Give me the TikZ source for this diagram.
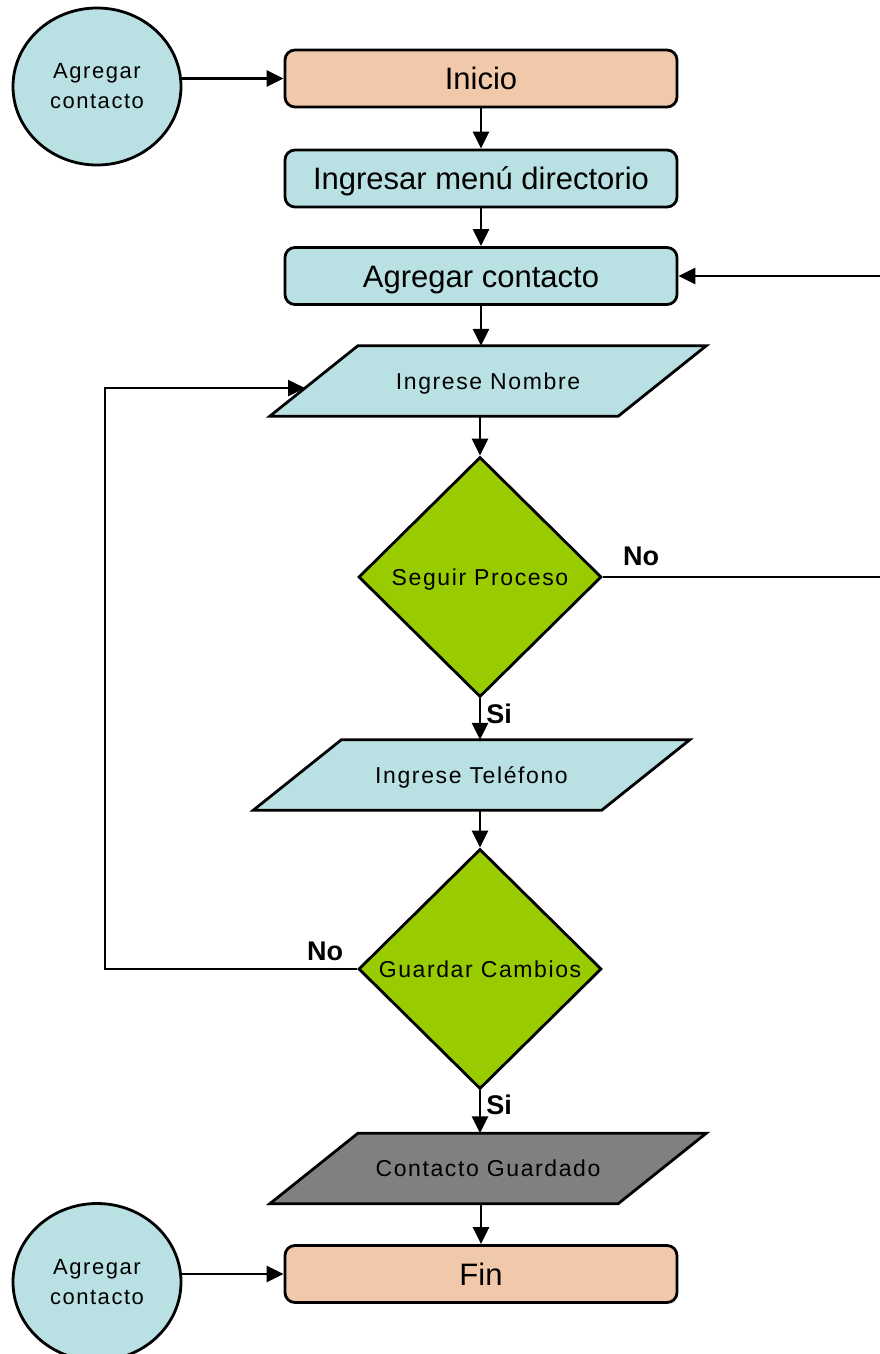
\documentclass[tikz,border=0pt]{standalone}
\usepackage{fontspec}
\setmainfont{Liberation Sans}
\newfontfamily\spacedsans[LetterSpace=7]{Liberation Sans}
\usetikzlibrary{shapes.geometric,arrows.meta,calc,backgrounds}

\definecolor{boxblue}{RGB}{185,224,227}
\definecolor{boxpeach}{RGB}{242,200,170}
\definecolor{decgreen}{RGB}{153,204,0}
\definecolor{outgray}{RGB}{128,128,128}

\tikzset{
  base/.style={draw=black, line width=2.8pt, inner sep=0pt, align=center},
  procbox/.style={base, rectangle, rounded corners=10pt, text height=22.2pt, text depth=0pt,
    minimum width=392pt, minimum height=57pt, font=\fontsize{31}{36}\selectfont},
  termbox/.style={procbox, fill=boxpeach},
  stepbox/.style={procbox, fill=boxblue},
  % text area of a data box; the slanted outline is drawn behind it
  iobox/.style={rectangle, inner sep=0pt, text height=16.5pt, text depth=0pt,
    minimum width=348pt, minimum height=70pt,
    font=\spacedsans\fontsize{23}{26}\selectfont},
  ioshape/.style={draw=black, line width=2.8pt, line join=miter},
  decbox/.style={base, diamond, text height=16.5pt, text depth=0pt, fill=decgreen,
    minimum width=243pt, minimum height=240pt,
    font=\spacedsans\fontsize{23}{26}\selectfont},
  connbox/.style={base, ellipse, fill=boxblue, minimum width=168pt, minimum height=157pt,
    font=\spacedsans\fontsize{22}{30}\selectfont},
  arrow/.style={line width=2.8pt, -{Triangle[length=17pt,width=16pt]}},
  lbl/.style={font=\bfseries\fontsize{27}{30}\selectfont, inner sep=0pt}
}

\newcommand{\slantbox}[2]{%
  \draw[ioshape, fill=#2]
    ($(#1.north west)+(44,0)$) -- ($(#1.north east)+(44,0)$) --
    ($(#1.south east)+(-44,0)$) -- ($(#1.south west)+(-44,0)$) -- cycle;}

\begin{document}
\begin{tikzpicture}[x=1pt, y=-1pt]
  \useasboundingbox (0,0) rectangle (880,1354);

  % main flow
  \node[connbox] (c1) at (97,86.5) {Agregar\\contacto};
  \node[termbox] (ini) at (481,78.5) {Inicio};
  \node[stepbox] (menu) at (481,178.5) {Ingresar menú directorio};
  \node[stepbox] (add) at (481,276) {Agregar contacto};
  \node[iobox] (nom) at (488,381) {Ingrese Nombre};
  \node[decbox] (seg) at (480,577) {Seguir Proceso};
  \node[iobox] (tel) at (471.5,775) {Ingrese Teléfono};
  \node[decbox] (gua) at (480,969) {Guardar Cambios};
  \node[iobox] (ok) at (488,1168.5) {Contacto Guardado};
  \node[termbox] (fin) at (481,1274) {Fin};
  \node[connbox] (c2) at (97,1282) {Agregar\\contacto};

  % slanted outlines of the data boxes
  \begin{scope}[on background layer]
    \slantbox{nom}{boxblue}
    \slantbox{tel}{boxblue}
    \slantbox{ok}{outgray}
  \end{scope}

  % branch labels
  \node[lbl] (no1) at (641,556) {No};
  \node[lbl] (si1) at (499,714) {Si};
  \node[lbl] (no2) at (325,951) {No};
  \node[lbl] (si2) at (499,1105) {Si};

  % bend points of the loops
  \coordinate (offR) at (910,0);
  \coordinate (offL) at (105,0);
  \coordinate (nomin) at ($($(nom.south west)+(-44,0)$)!0.4!($(nom.north west)+(44,0)$)$);

  % connectors
  \draw[arrow] (c1.east |- ini.west) -- (ini.west);
  \draw[arrow] (ini) -- (menu);
  \draw[arrow] (menu) -- (add);
  \draw[arrow] (add.south) -- (add.south |- nom.north);
  \draw[arrow] (nom.south -| seg.north) -- (seg.north);
  \draw[arrow] (seg.south) -- (seg.south |- tel.north);
  \draw[arrow] (tel.south -| gua.north) -- (gua.north);
  \draw[arrow] (gua.south) -- (gua.south |- ok.north);
  \draw[arrow] (ok.south -| fin.north) -- (fin.north);
  \draw[arrow] (c2.east |- fin.west) -- (fin.west);

  % loops back
  \draw[arrow] (seg.east) -- (seg.east -| offR) -- (offR |- add.east) -- (add.east);
  \draw[arrow] (gua.west) -- (gua.west -| offL) -- (offL |- nomin) -- (nomin);
\end{tikzpicture}
\end{document}
